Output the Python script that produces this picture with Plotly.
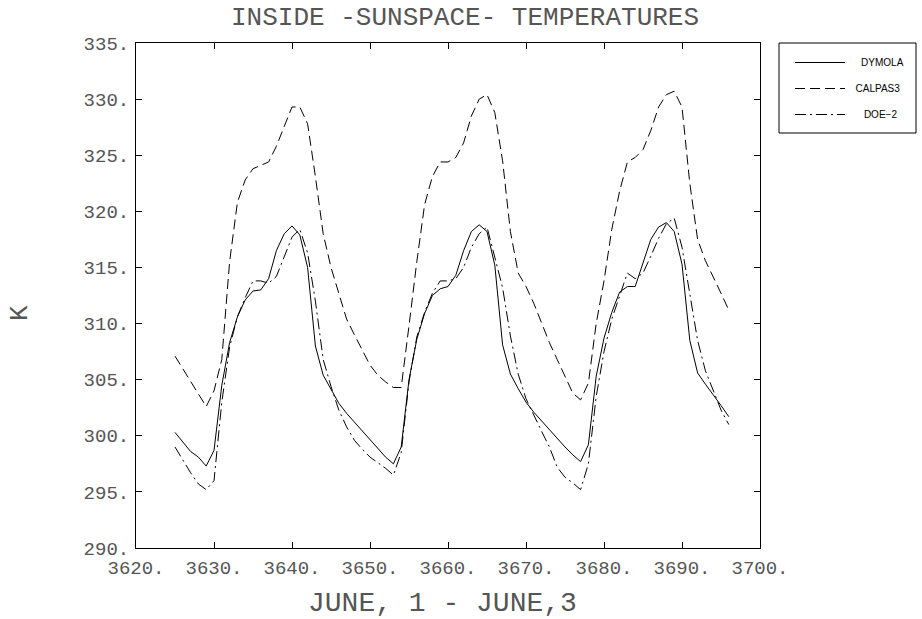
import plotly.graph_objects as go

hours = list(range(3625, 3697))

dymola = [300.3, 299.4, 298.6, 298.1, 297.3, 298.7, 304.5, 308.3, 310.6, 312.1,
          312.9, 313.0, 314.0, 316.5, 318.0, 318.7, 317.9, 315.0, 308.0, 305.4,
          304.1, 302.9, 302.0, 301.2, 300.4, 299.6, 298.8, 298.1, 297.5, 299.0,
          305.0, 308.6, 310.9, 312.5, 313.1, 313.3, 314.3, 316.5, 318.2, 318.8,
          318.2, 315.2, 308.1, 305.5, 304.2, 303.0, 302.1, 301.3, 300.5, 299.7,
          299.0, 298.3, 297.7, 299.2, 305.3, 308.7, 311.0, 312.8, 313.3, 313.3,
          315.4, 317.5, 318.6, 319.0, 318.2, 315.3, 308.5, 305.6, 304.6, 303.7,
          302.7, 301.7]

calpas3 = [307.1, 306.0, 304.8, 303.7, 302.6, 304.0, 306.8, 315.5, 320.8, 322.8,
           323.8, 324.1, 324.4, 325.8, 327.6, 329.3, 329.3, 327.8, 323.1, 318.0,
           315.0, 312.6, 310.4, 309.0, 307.6, 306.3, 305.4, 304.8, 304.3, 304.3,
           309.8, 315.5, 320.6, 323.1, 324.4, 324.4, 324.8, 326.1, 328.5, 330.0,
           330.4, 328.8, 324.5, 318.2, 314.5, 313.3, 311.8, 310.0, 308.3, 306.8,
           305.3, 303.8, 303.2, 304.7, 310.0, 313.8, 318.4, 321.8, 324.4, 324.8,
           325.5, 327.2, 329.3, 330.4, 330.7, 329.3, 322.5, 317.5, 315.6, 314.2,
           312.7, 311.2]

doe2 = [299.0, 297.8, 296.7, 295.7, 295.2, 296.0, 303.0, 307.9, 310.6, 312.3,
        313.8, 313.8, 313.6, 314.2, 315.9, 317.7, 318.4, 316.3, 312.0, 306.8,
        304.4, 302.3, 300.8, 299.6, 298.8, 298.1, 297.6, 297.1, 296.5, 298.5,
        304.8, 308.8, 311.0, 312.7, 313.8, 313.8, 314.0, 315.0, 316.8, 318.0,
        318.6, 315.8, 313.2, 308.9, 305.5, 303.3, 301.8, 300.4, 299.0, 297.2,
        296.3, 295.8, 295.2, 297.5, 303.5, 307.5, 310.4, 312.4, 314.5, 314.0,
        314.5, 316.0, 317.6, 318.9, 319.4, 316.8, 312.6, 308.5, 305.8, 304.0,
        302.3, 301.0]

series_names = ["DYMOLA", "CALPAS3", "DOE\u22122"]
x_ticks = [3620, 3630, 3640, 3650, 3660, 3670, 3680, 3690, 3700]
x_ticktext = ["3620.", "3630.", "3640.", "3650.", "3660.", "3670.", "3680.", "3690.", "3700."]
y_ticks = [290, 295, 300, 305, 310, 315, 320, 325, 330, 335]
y_ticktext = ["290.", "295.", "300.", "305.", "310.", "315.", "320.", "325.", "330.", "335."]

title_text = "INSIDE -SUNSPACE- TEMPERATURES"
x_title = "JUNE, 1 - JUNE,3"
y_title = "K"

W, H = 922, 619
ML, MR, MT, MB = 136, 162, 43, 71
PW = W - ML - MR
PH = H - MT - MB

dashes = ["solid", "10px,5px", "11px,4px,2px,4px"]
legend_pad = [4, 2, 5]  # leading spaces to centre legend labels
fig = go.Figure()
for name, ys, dash, pad in zip(series_names, [dymola, calpas3, doe2], dashes, legend_pad):
    fig.add_trace(go.Scatter(
        x=hours, y=ys, mode="lines", name="\u00a0" * pad + name, legendgroup=name,
        line=dict(color="black", width=1, dash=dash),
    ))

mono = "Liberation Mono"
txt_color = "#555"
axis_common = dict(
    showline=True, linecolor="black", linewidth=1, mirror="ticks",
    ticks="inside", ticklen=6, tickcolor="black", tickwidth=1,
    showgrid=False, zeroline=False,
    tickfont=dict(family=mono, size=19, color=txt_color),
)

fig.update_layout(
    width=W, height=H,
    margin=dict(l=ML, r=MR, t=MT, b=MB),
    plot_bgcolor="white", paper_bgcolor="white",
    xaxis=dict(range=[3620, 3700], tickvals=x_ticks, ticktext=x_ticktext,
               ticklabelstandoff=2, **axis_common),
    yaxis=dict(range=[290, 335], tickvals=y_ticks, ticktext=y_ticktext,
               ticklabelstandoff=2, **axis_common),
    legend=dict(
        x=(790 - ML) / PW, y=1 - (48 - MT) / PH, xanchor="left", yanchor="top",
        bgcolor="rgba(0,0,0,0)", borderwidth=0,
        font=dict(family="Liberation Sans", size=10, color="black"),
        tracegroupgap=7, itemwidth=50,
    ),
    showlegend=True,
    shapes=[dict(type="rect", xref="paper", yref="paper",
                 x0=(779 - ML) / PW, x1=(916 - ML) / PW,
                 y0=1 - (133 - MT) / PH, y1=1.0,
                 line=dict(color="black", width=1))],
    annotations=[
        dict(text=title_text, xref="paper", yref="paper",
             x=(465 - ML) / PW, y=1 + (MT - 18) / PH, xanchor="center", yanchor="middle",
             showarrow=False, font=dict(family=mono, size=26, color=txt_color)),
        dict(text=x_title, xref="paper", yref="paper",
             x=(442 - ML) / PW, y=-(603 - (H - MB)) / PH, xanchor="center", yanchor="middle",
             showarrow=False, font=dict(family=mono, size=28, color=txt_color)),
        dict(text=y_title, xref="paper", yref="paper", textangle=-90,
             x=(20 - ML) / PW, y=1 - (313 - MT) / PH, xanchor="center", yanchor="middle",
             showarrow=False, font=dict(family=mono, size=26, color=txt_color)),
    ],
)

fig.write_html("out.html")
